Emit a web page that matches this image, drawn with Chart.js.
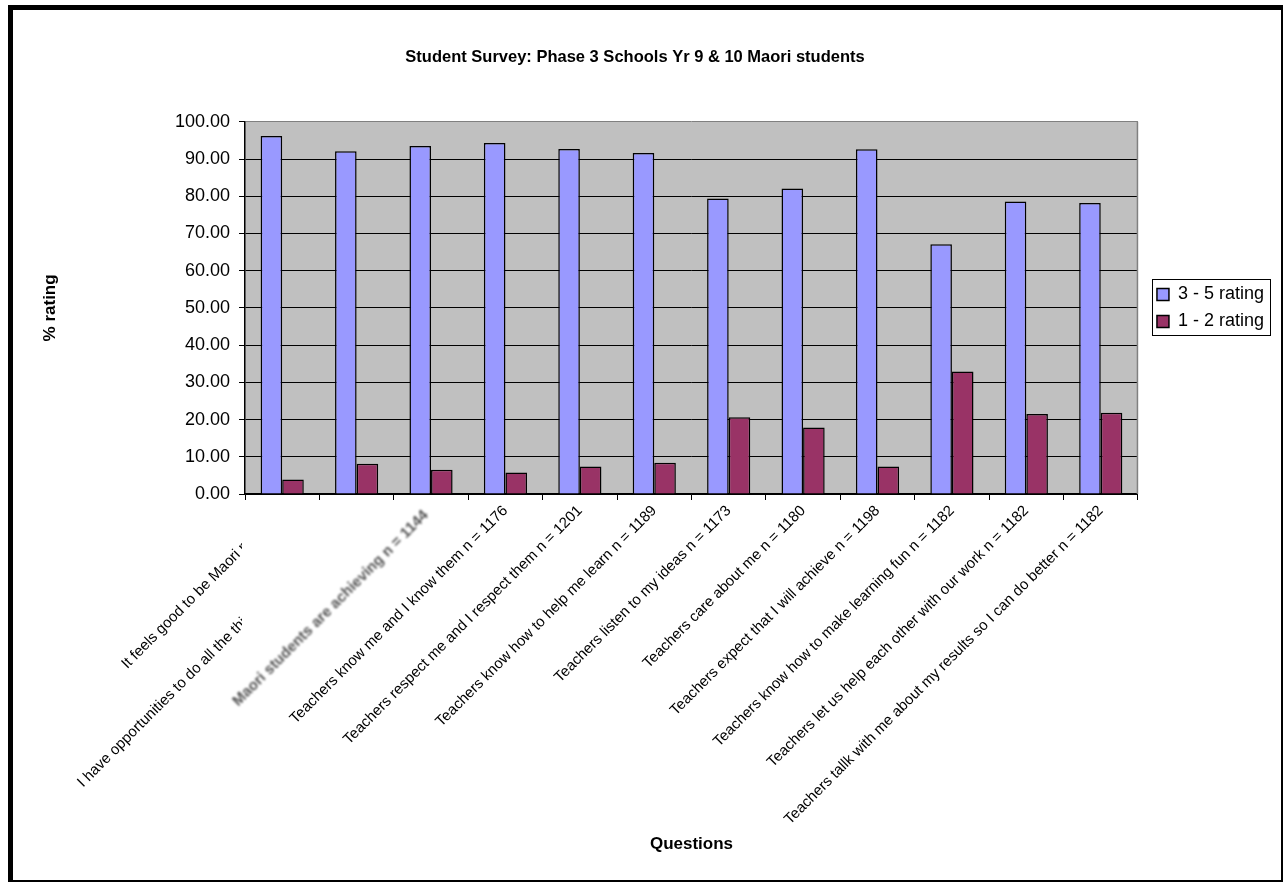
<!DOCTYPE html>
<html><head><meta charset="utf-8">
<script src="https://cdn.jsdelivr.net/npm/chart.js@4.4.1/dist/chart.umd.min.js"></script>
<style>
html,body{margin:0;padding:0;background:#fff;}
#wrap{position:relative;width:1283px;height:882px;overflow:hidden;}
#frame{position:absolute;left:8px;top:5px;width:1268px;height:870px;border-left:5px solid #000;border-top:5px solid #000;border-right:2px solid #000;border-bottom:2px solid #000;pointer-events:none;}
canvas{position:absolute;left:0;top:0;}
</style></head><body>
<div id="wrap"><canvas id="c" width="1283" height="882"></canvas><div id="frame"></div></div>
<script>
const chartTitle = 'Student Survey: Phase 3 Schools Yr 9 & 10 Maori students';
const xAxisTitle = 'Questions';
const yAxisTitle = '% rating';
const seriesNames = ['3 - 5 rating', '1 - 2 rating'];
// first two labels are cut off in the source by a pasted image; the hidden part is left blank
const categories = [
  'It feels good to be Maori n' + ' '.repeat(12),
  'I have opportunities to do all the thi' + ' '.repeat(38),
  'Maori students are achieving n = 1144',
  'Teachers know me and I know them n = 1176',
  'Teachers respect me and I respect them n = 1201',
  'Teachers know how to help me learn n = 1189',
  'Teachers listen to my ideas n = 1173',
  'Teachers care about me n = 1180',
  'Teachers expect that I will achieve n = 1198',
  'Teachers know how to make learning fun n = 1182',
  'Teachers let us help each other with our work n = 1182',
  'Teachers tallk with me about my results so I can do better n = 1182'
];
const rating35 = [96.2, 92.1, 93.5, 94.3, 92.7, 91.6, 79.4, 82.1, 92.6, 67.1, 78.6, 78.2];
const rating12 = [3.9, 8.1, 6.5, 5.8, 7.4, 8.4, 20.6, 17.9, 7.4, 32.9, 21.5, 21.8];
const yMin = 0, yMax = 100, yStep = 10;

const FONT = "'Liberation Sans', Arial, sans-serif";

const plotFrame = {
  id: 'plotFrame',
  beforeDraw(chart) {
    const {ctx, chartArea: a} = chart;
    ctx.save();
    ctx.fillStyle = '#C0C0C0';
    ctx.fillRect(a.left, a.top, a.right - a.left, a.bottom - a.top);
    ctx.restore();
  },
  afterDatasetsDraw(chart) {
    const {ctx, chartArea: a} = chart;
    ctx.save();
    ctx.strokeStyle = '#808080';
    ctx.lineWidth = 1.5;
    ctx.beginPath();
    ctx.moveTo(a.right - 0.5, a.top);
    ctx.lineTo(a.right - 0.5, a.bottom);
    ctx.stroke();
    ctx.restore();
  }
};

const legendPlace = {
  id: 'legendPlace',
  afterLayout(chart) {
    const lg = chart.legend;
    if (!lg) return;
    lg.left += 10; lg.right += 10;
    lg.top = chart.chartArea.top; lg.bottom = chart.chartArea.bottom;
    lg.height = lg.bottom - lg.top;
  },
  afterDraw(chart) {
    const lg = chart.legend;
    if (!lg || !lg.legendHitBoxes || !lg.legendHitBoxes.length) return;
    const hb = lg.legendHitBoxes;
    let l = Infinity, t = Infinity, r = -Infinity, b = -Infinity;
    hb.forEach(h => { l = Math.min(l, h.left); t = Math.min(t, h.top); r = Math.max(r, h.left + h.width); b = Math.max(b, h.top + h.height); });
    const ctx = chart.ctx;
    ctx.save();
    ctx.strokeStyle = '#000';
    ctx.lineWidth = 1;
    ctx.strokeRect(Math.round(l - 5) + 0.5, Math.round(t - 6) + 0.5, Math.round(r - l + 11), Math.round(b - t + 11));
    ctx.restore();
  }
};

const pastedLabel = {
  id: 'pastedLabel',
  afterDraw(chart) {
    const xs = chart.scales.x;
    const ctx = chart.ctx;
    const tx = xs.getPixelForTick(2);
    const limit = tx + xs.top + 30; // stay clear of the 4th label
    ctx.save();
    ctx.beginPath();
    ctx.moveTo(xs.left - 3, xs.top + 9);
    ctx.lineTo(tx - 3, xs.top + 9);
    ctx.lineTo(tx - 3, limit - (tx - 3));
    ctx.lineTo(limit - (xs.top + 198), xs.top + 198);
    ctx.lineTo(xs.left - 3, xs.top + 198);
    ctx.closePath();
    ctx.fillStyle = '#fff';
    ctx.fill();
    ctx.translate(tx - 5, xs.top + 19);
    ctx.rotate(-Math.PI / 4);
    ctx.filter = 'blur(0.9px)';
    ctx.fillStyle = '#555';
    ctx.font = 'bold 15px ' + FONT;
    ctx.textAlign = 'right';
    ctx.textBaseline = 'middle';
    ctx.fillText(categories[2], 0, 0);
    ctx.restore();
  }
};

new Chart(document.getElementById('c'), {
  type: 'bar',
  data: {
    labels: categories,
    datasets: [
      { label: seriesNames[0], data: rating35, backgroundColor: '#9999FF', borderColor: '#000', borderWidth: 1.5 },
      { label: seriesNames[1], data: rating12, backgroundColor: '#993366', borderColor: '#000', borderWidth: 1.5 }
    ]
  },
  options: {
    responsive: false,
    animation: false,
    devicePixelRatio: 1,
    layout: { padding: { left: 6, right: 19, top: 0, bottom: 0 } },
    datasets: { bar: { categoryPercentage: 0.58, barPercentage: 1.0 } },
    plugins: {
      title: {
        display: true, text: chartTitle, color: '#000',
        font: { family: FONT, size: 16.5, weight: 'bold' },
        padding: { top: 48, bottom: 54 }
      },
      legend: {
        position: 'right',
        labels: {
          color: '#000', font: { family: FONT, size: 18 },
          boxWidth: 12, boxHeight: 12, padding: 9
        }
      },
      tooltip: { enabled: false }
    },
    scales: {
      x: {
        afterFit(s) { s.height = 388; },
        grid: { display: true, drawOnChartArea: false, drawTicks: true, tickLength: 6, color: '#000', offset: true },
        border: { display: true, color: '#000', width: 1.5 },
        ticks: {
          autoSkip: false, minRotation: 45, maxRotation: 45, padding: 2,
          color: (c) => c.index === 2 ? 'rgba(0,0,0,0)' : '#000',
          font: { family: FONT, size: 15 }
        },
        title: {
          display: true, text: xAxisTitle, color: '#000',
          font: { family: FONT, size: 17, weight: 'bold' },
          padding: { top: 0, bottom: 27 }
        }
      },
      y: {
        min: yMin, max: yMax,
        afterFit(s) { s.width = 239; },
        grid: {
          color: (c) => c.tick && c.tick.value === yMax ? '#808080' : '#000',
          tickColor: '#000', tickLength: 6, lineWidth: 1
        },
        border: { display: true, color: '#000', width: 1.5 },
        ticks: {
          stepSize: yStep, padding: 9, color: '#000',
          font: { family: FONT, size: 18 },
          callback: (v) => Number(v).toFixed(2)
        },
        title: {
          display: true, text: yAxisTitle, color: '#000',
          font: { family: FONT, size: 17, weight: 'bold' },
          padding: { top: 34, bottom: 0 }
        }
      }
    }
  },
  plugins: [plotFrame, legendPlace, pastedLabel]
});
</script>
</body></html>
